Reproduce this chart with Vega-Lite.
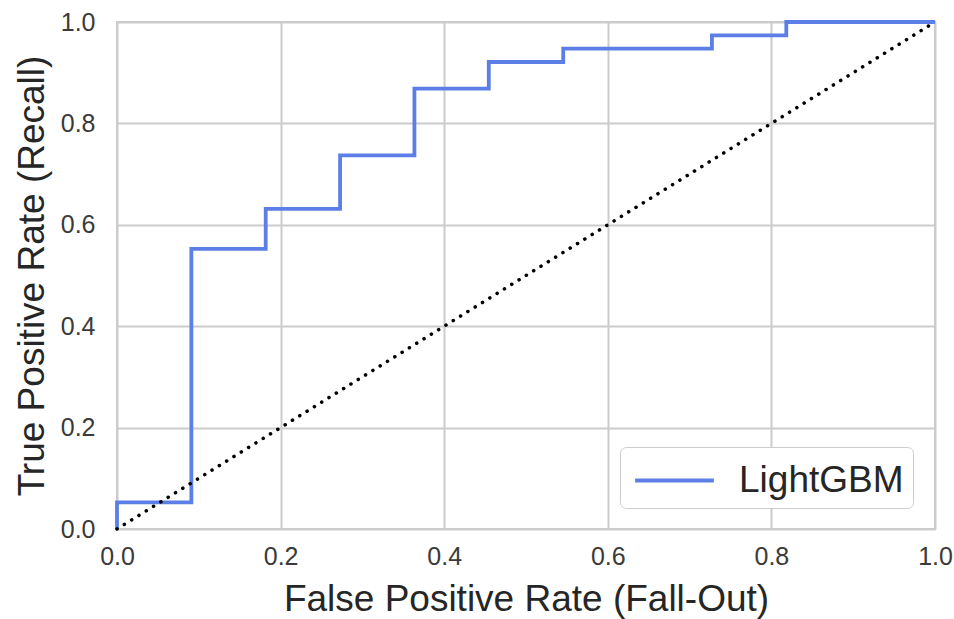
{
  "$schema": "https://vega.github.io/schema/vega-lite/v6.json",
  "width": 818,
  "height": 507,
  "autosize": {"type": "none"},
  "padding": {"left": 117, "top": 22, "right": 19, "bottom": 90},
  "background": "white",
  "config": {
    "font": "Liberation Sans",
    "view": {"stroke": "#cccccc", "strokeWidth": 2},
    "legend": {"strokeColor": "#cccccc"},
    "axis": {
      "grid": true,
      "gridColor": "#cccccc",
      "gridWidth": 2,
      "domain": false,
      "ticks": false,
      "labelFlush": false,
      "labelFont": "Liberation Sans",
      "labelFontSize": 25,
      "labelColor": "#3a3a3a",
      "titleFont": "Liberation Sans",
      "titleFontSize": 37,
      "titleFontWeight": "normal",
      "titleColor": "#262626"
    }
  },
  "datasets": {
    "roc": [
      {"i": 0, "fpr": 0.0, "tpr": 0.0, "model": "LightGBM"},
      {"i": 1, "fpr": 0.0, "tpr": 0.0526, "model": "LightGBM"},
      {"i": 2, "fpr": 0.0909, "tpr": 0.0526, "model": "LightGBM"},
      {"i": 3, "fpr": 0.0909, "tpr": 0.5526, "model": "LightGBM"},
      {"i": 4, "fpr": 0.1818, "tpr": 0.5526, "model": "LightGBM"},
      {"i": 5, "fpr": 0.1818, "tpr": 0.6316, "model": "LightGBM"},
      {"i": 6, "fpr": 0.2727, "tpr": 0.6316, "model": "LightGBM"},
      {"i": 7, "fpr": 0.2727, "tpr": 0.7368, "model": "LightGBM"},
      {"i": 8, "fpr": 0.3636, "tpr": 0.7368, "model": "LightGBM"},
      {"i": 9, "fpr": 0.3636, "tpr": 0.8684, "model": "LightGBM"},
      {"i": 10, "fpr": 0.4545, "tpr": 0.8684, "model": "LightGBM"},
      {"i": 11, "fpr": 0.4545, "tpr": 0.9211, "model": "LightGBM"},
      {"i": 12, "fpr": 0.5455, "tpr": 0.9211, "model": "LightGBM"},
      {"i": 13, "fpr": 0.5455, "tpr": 0.9474, "model": "LightGBM"},
      {"i": 14, "fpr": 0.7273, "tpr": 0.9474, "model": "LightGBM"},
      {"i": 15, "fpr": 0.7273, "tpr": 0.9737, "model": "LightGBM"},
      {"i": 16, "fpr": 0.8182, "tpr": 0.9737, "model": "LightGBM"},
      {"i": 17, "fpr": 0.8182, "tpr": 1.0, "model": "LightGBM"},
      {"i": 18, "fpr": 1.0, "tpr": 1.0, "model": "LightGBM"}
    ],
    "diag": [
      {"fpr": 0.0, "tpr": 0.0},
      {"fpr": 1.0, "tpr": 1.0}
    ]
  },
  "layer": [
    {
      "data": {"name": "roc"},
      "mark": {"type": "line", "strokeWidth": 3.8, "clip": false},
      "encoding": {
        "x": {"field": "fpr", "type": "quantitative", "scale": {"domain": [0, 1], "nice": false},
              "axis": {"title": "False Positive Rate (Fall-Out)", "values": [0, 0.2, 0.4, 0.6, 0.8, 1.0], "format": ".1f", "labelPadding": 15, "titlePadding": 12}},
        "y": {"field": "tpr", "type": "quantitative", "scale": {"domain": [0, 1], "nice": false},
              "axis": {"title": "True Positive Rate (Recall)", "values": [0, 0.2, 0.4, 0.6, 0.8, 1.0], "format": ".1f", "labelPadding": 22, "titlePadding": 9}},
        "order": {"field": "i", "type": "quantitative"},
        "color": {
          "field": "model", "type": "nominal",
          "scale": {"range": ["#5b7fe6"]},
          "legend": {
            "title": null,
            "orient": "none",
            "legendX": 503,
            "legendY": 425,
            "symbolType": "M-1.75,0H1.75",
            "symbolSize": 2025,
            "symbolStrokeWidth": 3.8,
            "symbolOffset": 21,
            "labelFontSize": 37,
            "labelFont": "Liberation Sans",
            "labelColor": "#262626",
            "labelLimit": 400,
            "labelOffset": 40,
            "strokeColor": "#cccccc",
            "cornerRadius": 6,
            "padding": 9,
            "fillColor": "white"
          }
        }
      }
    },
    {
      "data": {"name": "diag"},
      "mark": {"type": "line", "color": "black", "strokeWidth": 3.5, "strokeDash": [0.1, 8.5], "strokeCap": "round"},
      "encoding": {
        "x": {"field": "fpr", "type": "quantitative"},
        "y": {"field": "tpr", "type": "quantitative"}
      }
    }
  ]
}
